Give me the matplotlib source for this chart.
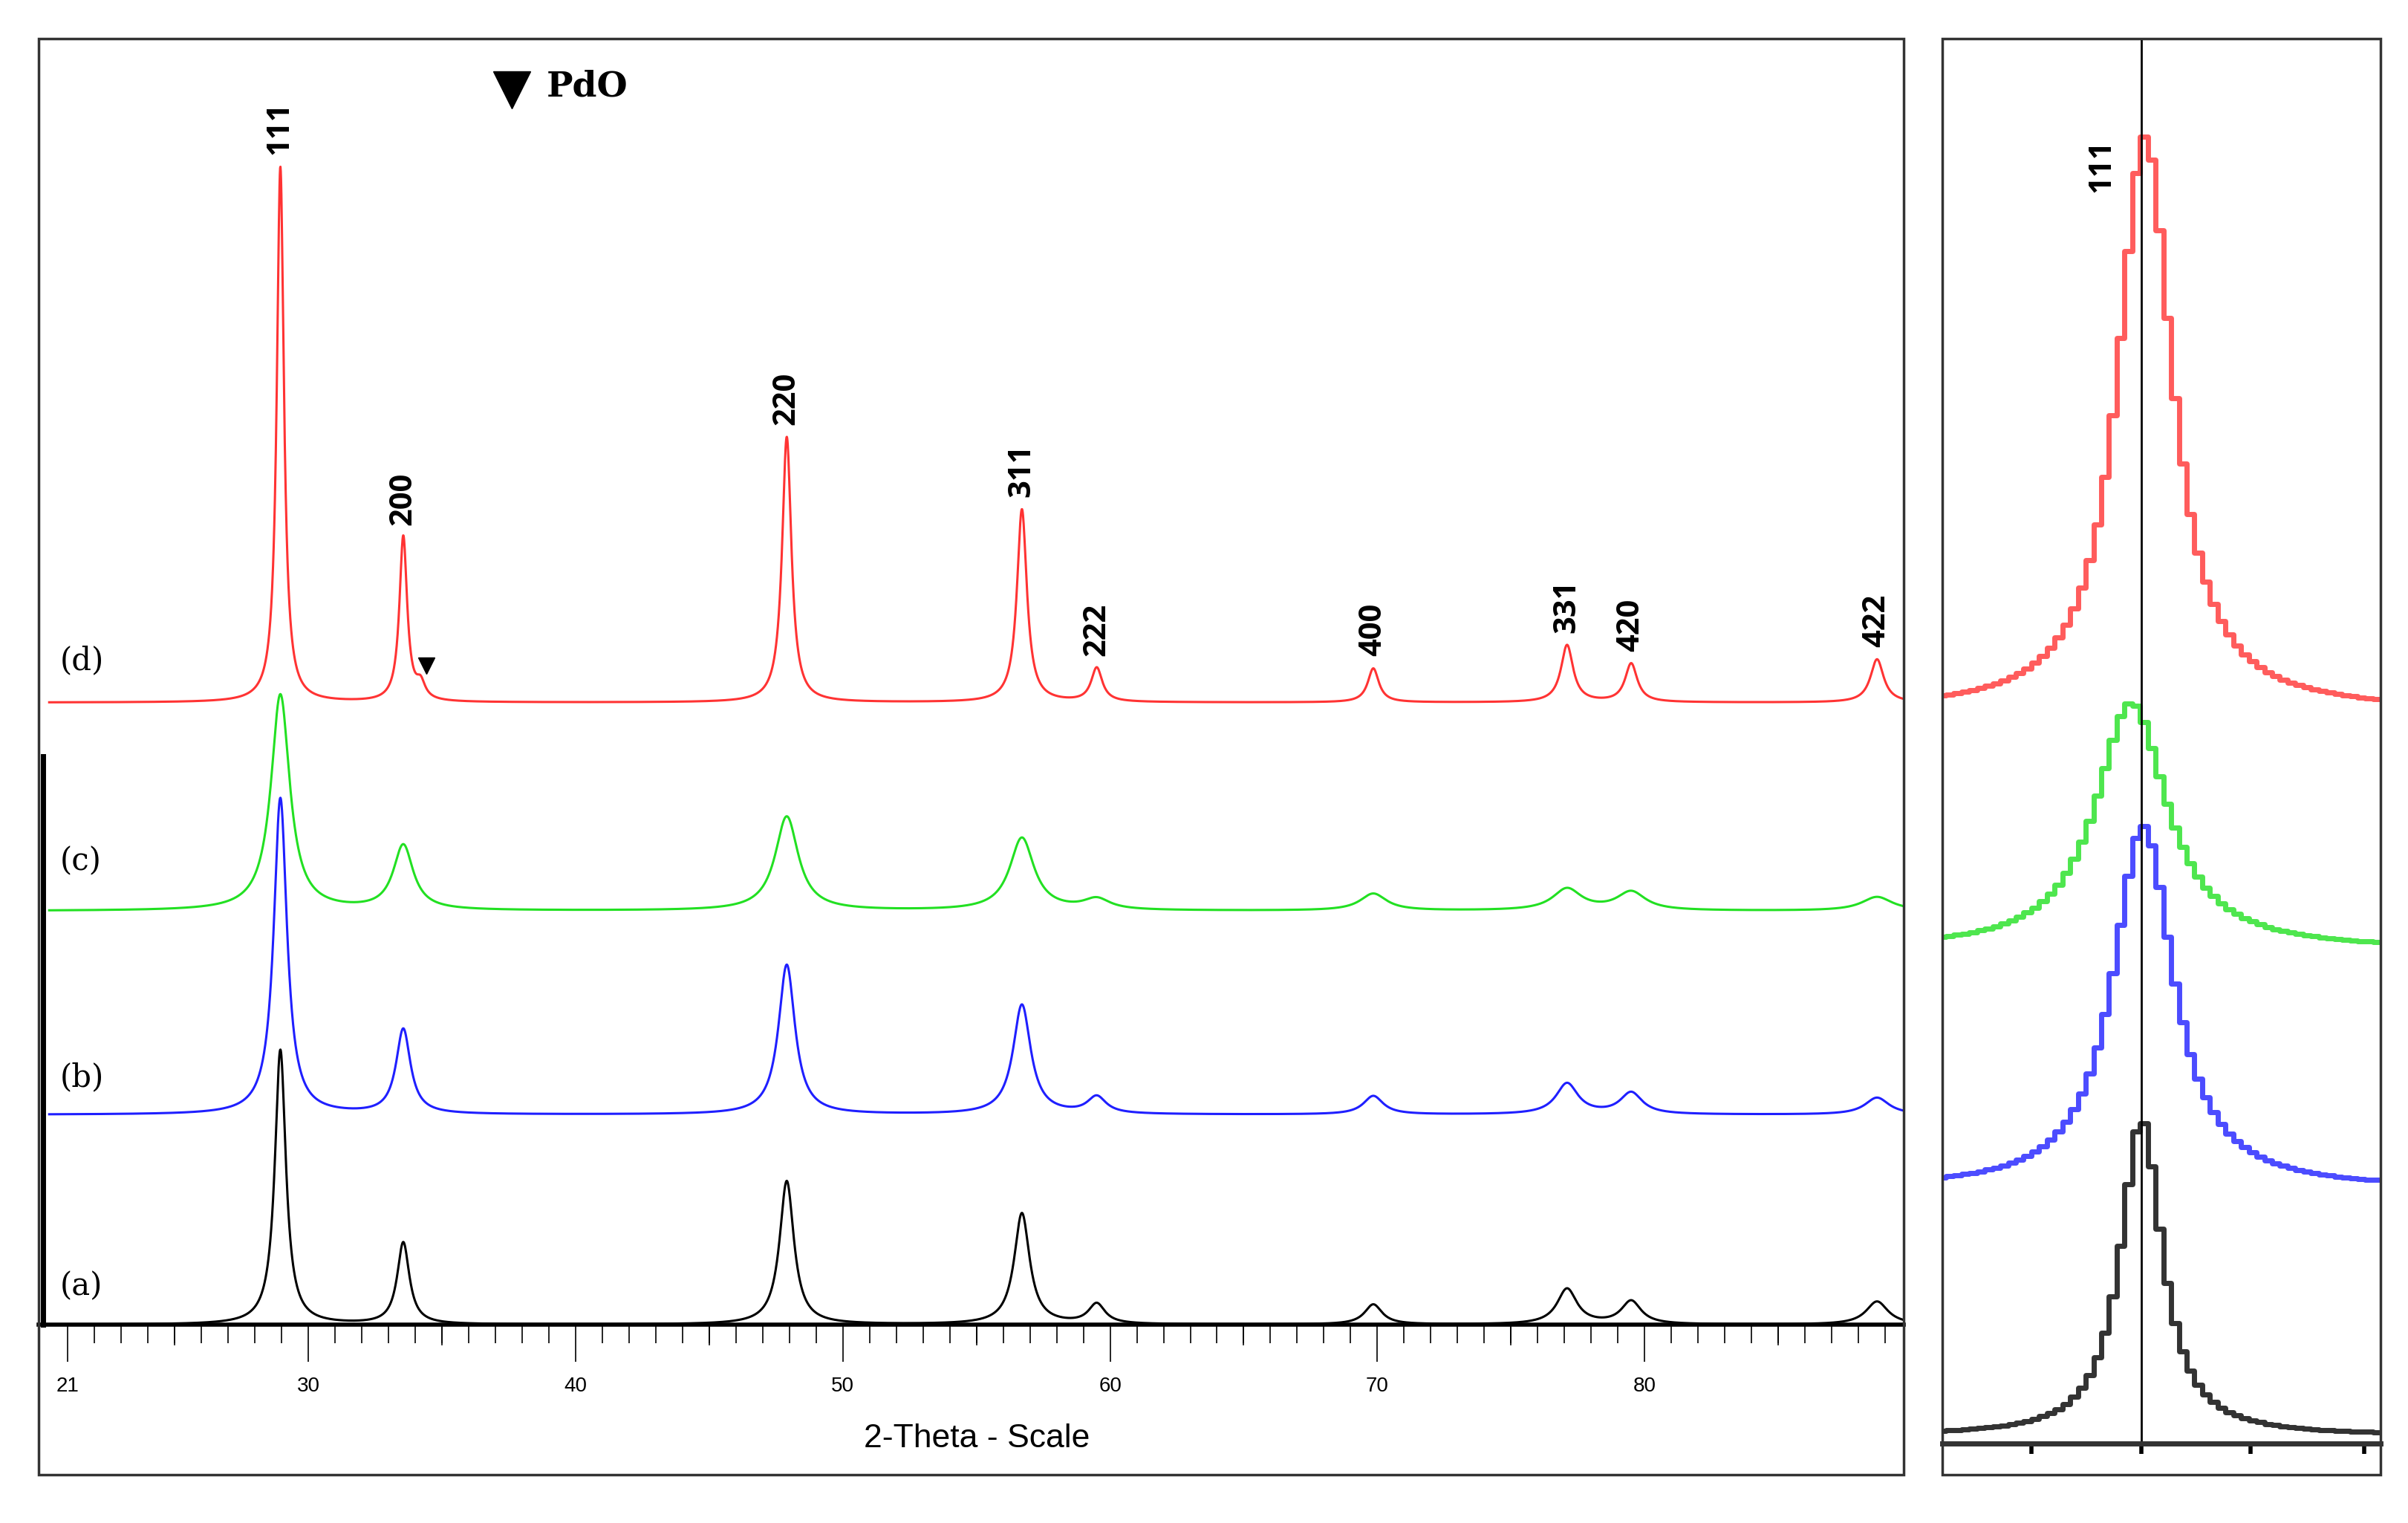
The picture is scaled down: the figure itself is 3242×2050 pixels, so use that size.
import numpy as np
import matplotlib
matplotlib.use("Agg")
import matplotlib.pyplot as plt
from matplotlib.patches import Rectangle

# ---- data ----
hkl = ["111", "200", "220", "311", "222", "400", "331", "420", "422"]
pos = [28.95, 33.55, 47.9, 56.7, 59.5, 69.85, 77.1, 79.5, 88.7]
h_a = [178, 53, 93, 72, 13, 13, 23, 15, 15]
h_b = [205, 55, 97, 71, 11, 12, 20, 14, 11]
h_c = [140, 42, 61, 47, 7, 11, 14, 12, 9]
h_d = [347, 107, 172, 125, 22, 22, 37, 25, 28]
w_a = [0.50, 0.55, 0.65, 0.70, 0.75, 0.8, 0.9, 0.9, 1.0]
w_b = [0.60, 0.65, 0.75, 0.80, 0.85, 0.9, 1.0, 1.0, 1.1]
w_c = [0.85, 0.90, 1.05, 1.10, 1.2, 1.2, 1.3, 1.3, 1.4]
w_d = [0.32, 0.35, 0.42, 0.45, 0.5, 0.5, 0.55, 0.55, 0.6]
pdo_pos, pdo_h, pdo_w = 34.2, 10, 0.4
offsets = {"a": 0, "b": 136, "c": 268, "d": 403}
colors = {"a": "black", "b": "#1f1fff", "c": "#22e022", "d": "#ff3333"}
label_y = {"a": 15, "b": 150, "c": 290, "d": 420}
hkl_label_h = [h_d[0], h_d[1], h_d[2], h_d[3], h_d[4], h_d[5], h_d[6], h_d[7], h_d[8]]
tick_labels = [21, 30, 40, 50, 60, 70, 80]

# zoom panel (111 peak)
z_center = {"a": 28.93, "b": 28.95, "c": 28.82, "d": 28.97}
z_base = {"a": 5, "b": 165, "c": 320, "d": 475}
z_h = {"a": 205, "b": 235, "c": 160, "d": 372}
z_w = {"a": 0.55, "b": 0.80, "c": 0.95, "d": 0.72}

def lor(x, c, h, w):
    return h / (1 + ((x - c) / (w / 2)) ** 2)

narrow = ["Liberation Sans Narrow", "Liberation Sans", "DejaVu Sans"]

fig = plt.figure(figsize=(32.42, 20.5), dpi=100)
fig.patches.append(Rectangle((0.016, 0.0317), 0.7746, 0.9429, transform=fig.transFigure,
                             fill=False, lw=2.5, ec="#333333"))
fig.patches.append(Rectangle((0.8065, 0.0317), 0.1821, 0.9429, transform=fig.transFigure,
                             fill=False, lw=2.5, ec="#333333"))

ax = fig.add_axes([0.016, 0.1302, 0.7746, 0.8444])
ax.set_xlim(19.9, 89.7)
ax.set_ylim(0, 833)
x = np.linspace(20.3, 89.7, 6000)
series = {"a": (h_a, w_a), "b": (h_b, w_b), "c": (h_c, w_c), "d": (h_d, w_d)}
for k, (hs, ws) in series.items():
    y = np.zeros_like(x)
    for p, hh, ww in zip(pos, hs, ws):
        y += lor(x, p, hh, ww)
    if k == "d":
        y += lor(x, pdo_pos, pdo_h, pdo_w)
    ax.plot(x, y + offsets[k], color=colors[k], lw=2.2)
    ax.text(20.7, label_y[k], f"({k})", family="DejaVu Serif", fontsize=30, va="bottom")
for lab, p, hh in zip(hkl, pos, hkl_label_h):
    ax.text(p, offsets["d"] + hh + 8, lab, rotation=90, ha="center", va="bottom",
            fontsize=30, fontweight="bold", family="Open Sans")
ax.plot([34.4], [offsets["d"] + 24], marker="v", color="black", ms=16)
ax.plot([37.6], [800], marker="v", color="black", ms=36)
ax.text(38.9, 802, "PdO", family="DejaVu Serif", fontweight="bold", fontsize=34, va="center")
for s in ["top", "right"]:
    ax.spines[s].set_visible(False)
ax.spines["left"].set_visible(False)
ax.spines["bottom"].set_linewidth(4)
ax.plot([20.08, 20.08], [0, 368], color="black", lw=5, clip_on=False)
ax.set_yticks([])
ax.set_xticks(tick_labels)
ax.set_xticklabels([str(t) for t in tick_labels], fontsize=20, family=narrow)
ax.set_xticks(np.arange(21, 90, 1), minor=True)
ax.tick_params(axis="x", which="major", length=36, width=1.2, pad=14)
ax.tick_params(axis="x", which="minor", length=18, width=1.2)
for t in range(25, 90, 10):
    ax.plot([t, t], [0, -13], color="black", lw=1.2, clip_on=False)
ax.text(55.0, -74, "2-Theta - Scale", fontsize=32, family=narrow,
        ha="center", va="center")

# zoom panel
az = fig.add_axes([0.8065, 0.0522, 0.1821, 0.9224])
az.set_xlim(26.75, 31.55)
az.set_ylim(0, 910)
xs = np.arange(26.75, 31.56, 0.085)
for k in ["a", "b", "c", "d"]:
    yz = z_base[k] + lor(xs, z_center[k], z_h[k], z_w[k])
    az.step(xs, yz, where="mid", color=colors[k], lw=5, alpha=0.8)
az.axvline(28.93, color="black", lw=2)
az.text(28.5, 845, "111", rotation=90, ha="center", va="top", fontsize=30,
        fontweight="bold", family="Open Sans")
for s in ["top", "right", "left"]:
    az.spines[s].set_visible(False)
az.spines["bottom"].set_linewidth(5)
az.spines["bottom"].set_color("#333333")
az.set_yticks([])
az.set_xticks([27.73, 28.93, 30.13, 31.37])
az.set_xticklabels([])
az.tick_params(axis="x", length=10, width=4)

fig.savefig("out.png", dpi=100)
